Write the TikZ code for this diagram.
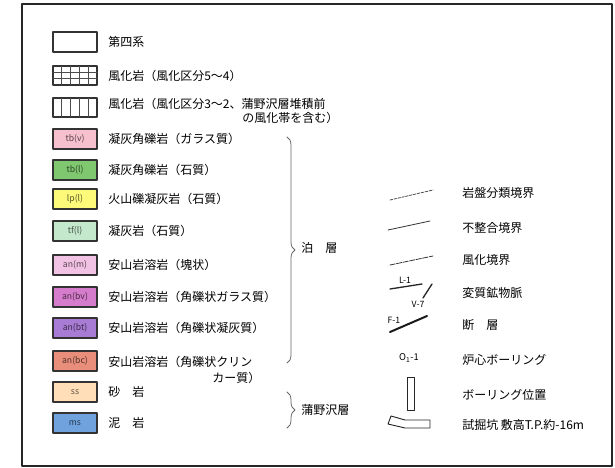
\documentclass[tikz,border=0pt]{standalone}
\usepackage{fontspec}
\setmainfont{Noto Sans CJK JP}
\usepackage{xcolor}
\usetikzlibrary{calc, decorations.pathreplacing}
\definecolor{tbv}{RGB}{247,192,206}
\definecolor{tbl}{RGB}{128,200,112}
\definecolor{lpl}{RGB}{252,250,120}
\definecolor{tfl}{RGB}{196,232,204}
\definecolor{anm}{RGB}{242,194,228}
\definecolor{anbv}{RGB}{214,124,204}
\definecolor{anbt}{RGB}{168,124,212}
\definecolor{anbc}{RGB}{232,142,122}
\definecolor{sscol}{RGB}{255,222,184}
\definecolor{mscol}{RGB}{112,162,222}
\tikzset{
  swatch/.style={draw=black!80, line width=0.8pt},
  tag/.style={inner sep=0pt, font=\fontsize{6.5}{7}\selectfont},
  lbl/.style={anchor=west, inner sep=0pt, font=\fontsize{9}{11}\selectfont},
  bracebar/.style={draw=black!60, line width=0.6pt, decorate,
    decoration={brace, amplitude=6pt}}
}

\begin{document}
\begin{tikzpicture}[x=0.75pt, y=-0.75pt, line join=round, line cap=round]
    \useasboundingbox (0,0) rectangle (615,468);

    % 外枠
    \draw[black!85, line width=1.4pt] (22,4) rectangle (612,466);

    % 第四系・風化岩
    \draw[swatch] (53,32) rectangle (97,52);
    \node[lbl] (quat) at (108,42) {第四系};

    \draw[swatch] (53,66) rectangle (97,85);
    \foreach \i in {1,...,4} \draw[black!70, line width=0.5pt] ({53+8.8*\i},66) -- ({53+8.8*\i},85);
    \draw[black!70, line width=0.5pt] (53,72.3) -- (97,72.3) (53,78.6) -- (97,78.6);
    \node[lbl] (wea54) at (108,76) {風化岩（風化区分5～4）};

    \draw[swatch] (53,98) rectangle (97,117);
    \foreach \i in {1,...,4} \draw[black!70, line width=0.5pt] ({53+8.8*\i},98) -- ({53+8.8*\i},117);
    \node[lbl] (wea32) at (108,104) {風化岩（風化区分3～2、蒲野沢層堆積前};
    \node[lbl] (wea32b) at (242,118) {の風化帯を含む）};

    % 泊層・蒲野沢層の岩種
    \foreach \n/\y/\c/\t/\s in {
        tbv/139/tbv/tb(v)/凝灰角礫岩（ガラス質）,
        tbl/170/tbl/tb(l)/凝灰角礫岩（石質）,
        lpl/199/lpl/lp(l)/火山礫凝灰岩（石質）,
        tfl/231/tfl/tf(l)/凝灰岩（石質）,
        anm/265/anm/an(m)/安山岩溶岩（塊状）,
        anbv/297/anbv/an(bv)/安山岩溶岩（角礫状ガラス質）,
        anbt/328/anbt/an(bt)/安山岩溶岩（角礫状凝灰質）,
        ss/392/sscol/ss/砂　岩,
        ms/423/mscol/ms/泥　岩}
    {
        \draw[swatch, fill=\c] (53,\y-10) rectangle (97,\y+10);
        \node[tag, text=\c!35!black] (sw\n) at (75,\y) {\t};
        \node[lbl] (tx\n) at (108,\y) {\s};
    }
    \draw[swatch, fill=anbc] (53,351) rectangle (97,371);
    \node[tag, text=anbc!35!black] (swanbc) at (75,361) {an(bc)};
    \node[lbl] (txanbc) at (108,362) {安山岩溶岩（角礫状クリン};
    \node[lbl] (txanbcb) at (212,378) {カー質）};

    % 括弧
    \draw[bracebar] (287,137) -- (287,363);
    \node[lbl] (tomari) at (301,248) {泊　層};
    \draw[bracebar] (287,392) -- (287,428);
    \node[lbl] (gamano) at (301,410) {蒲野沢層};

    % 境界線の凡例
    \draw[black!70, line width=0.6pt, dash pattern=on 2pt off 1pt] (390,200) -- (433,190);
    \node[lbl] (rockcls) at (462,193) {岩盤分類境界};
    \draw[black!80, line width=0.6pt] (388,230) -- (430,221);
    \node[lbl] (uncon) at (462,228) {不整合境界};
    \draw[black!80, line width=0.6pt, dash pattern=on 4pt off 1pt] (390,265) -- (433,256);
    \node[lbl] (weabd) at (462,260) {風化境界};

    % 変質鉱物脈・断層
    \draw[black!85, line width=1pt] (390,289) -- (422,284);
    \node[tag] (veinL) at (405,280) {L-1};
    \draw[black!85, line width=1pt] (423,298) -- (432,284);
    \node[tag] (veinV) at (418,304) {V-7};
    \node[lbl] (vein) at (462,293) {変質鉱物脈};
    \draw[black!90, line width=1.5pt] (390,332) -- (427,316);
    \node[tag] (faultF) at (394,320) {F-1};
    \node[lbl] (fault) at (462,325) {断　層};

    % ボーリング・試掘坑
    \node[inner sep=0pt, font=\fontsize{7}{8}\selectfont] (core) at (409,358) {O\textsubscript{1}-1};
    \node[lbl] (coretx) at (462,360) {炉心ボーリング};
    \draw[black!85, line width=0.7pt] (407,377) rectangle (414,410);
    \node[lbl] (bore) at (462,395) {ボーリング位置};
    \draw[black!85, line width=0.7pt] (391,416) -- (405,420) -- (430,420) -- (430,428)
        -- (405,428) -- (388,424) -- cycle;
    \node[lbl] (trench) at (462,425) {試掘坑 敷高T.P.約-16m};
\end{tikzpicture}
\end{document}
